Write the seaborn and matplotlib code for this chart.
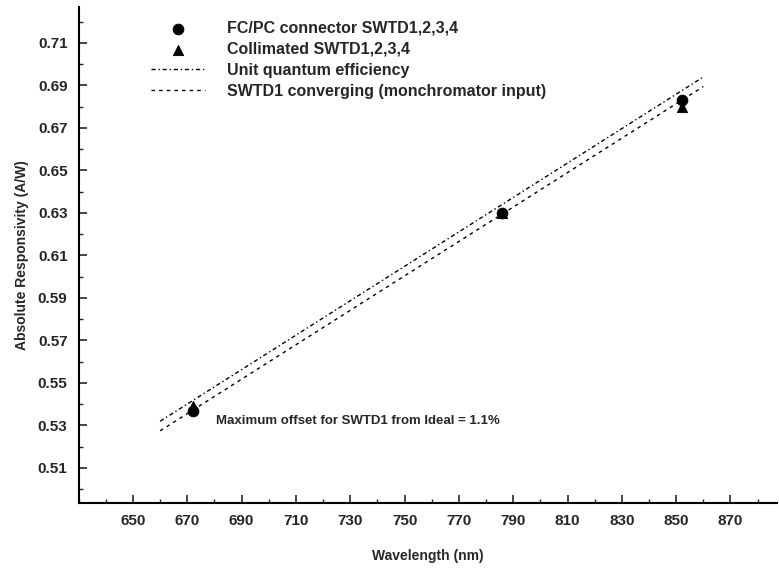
import pandas as pd
import matplotlib
matplotlib.use('Agg')
import matplotlib.pyplot as plt
import seaborn as sns
from matplotlib.ticker import MultipleLocator

# 측정 데이터
wl_pts = [672, 786, 852]
fcpc = [0.537, 0.630, 0.683]
collim = [0.539, 0.630, 0.680]

# 기준선 (양 끝점)
wl_line = [660, 860]
unit_qe = [0.532, 0.694]
swtd1_conv = [0.5275, 0.6895]

x_ticks = [650, 670, 690, 710, 730, 750, 770, 790, 810, 830, 850, 870]
y_ticks = [0.51, 0.53, 0.55, 0.57, 0.59, 0.61, 0.63, 0.65, 0.67, 0.69, 0.71]

sns.set_style('ticks')
plt.rcParams['font.family'] = ['Liberation Sans', 'DejaVu Sans']

df_pts = pd.DataFrame({'wl': wl_pts, 'fcpc': fcpc, 'collim': collim})
df_line = pd.DataFrame({'wl': wl_line, 'unit': unit_qe, 'conv': swtd1_conv})

fig = plt.figure(figsize=(7.79, 5.71), dpi=100)
ax = fig.add_axes([0.101, 0.119, 0.896, 0.869])

sns.scatterplot(data=df_pts, x='wl', y='fcpc', ax=ax, marker='o', s=60,
                color='black', edgecolor='black', label='FC/PC connector SWTD1,2,3,4', zorder=3)
sns.scatterplot(data=df_pts, x='wl', y='collim', ax=ax, marker='^', s=55,
                color='black', edgecolor='black', label='Collimated SWTD1,2,3,4', zorder=3)
sns.lineplot(data=df_line, x='wl', y='unit', ax=ax, color='black', lw=1.0,
             dashes=False, label='Unit quantum efficiency')
ax.lines[-1].set_dashes([3, 2, 1, 2])
sns.lineplot(data=df_line, x='wl', y='conv', ax=ax, color='black', lw=1.0,
             label='SWTD1 converging (monchromator input)')
ax.lines[-1].set_dashes([2.5, 3])

ax.text(680.5, 0.532, 'Maximum offset for SWTD1 from Ideal = 1.1%', fontsize=9.5,
        fontweight='bold', va='center', ha='left')

ax.set_xlim(630, 887)
ax.set_ylim(0.4935, 0.727)
ax.set_xticks(x_ticks)
ax.set_yticks(y_ticks)
ax.set_yticklabels([f'{v:.2f}' for v in y_ticks])
ax.xaxis.set_minor_locator(MultipleLocator(10))
ax.yaxis.set_minor_locator(MultipleLocator(0.01))
ax.tick_params(which='major', direction='in', length=6, width=1.2, labelsize=11, pad=8)
ax.tick_params(which='minor', direction='in', length=3, width=1.0)
for lab in ax.get_xticklabels() + ax.get_yticklabels():
    lab.set_fontweight('bold')

sns.despine(ax=ax)
for s in ['left', 'bottom']:
    ax.spines[s].set_linewidth(1.5)
    ax.spines[s].set_color('black')

ax.set_xlabel('Wavelength (nm)', fontsize=10, fontweight='bold', labelpad=15)
ax.set_ylabel('Absolute Responsivity (A/W)', fontsize=10, fontweight='bold', labelpad=6)

leg = ax.legend(loc='upper left', bbox_to_anchor=(0.103, 0.972), frameon=False,
                prop={'size': 11.5, 'weight': 'bold'}, handlelength=3.4, handletextpad=1.4,
                labelspacing=0.38, borderaxespad=0, borderpad=0)

fig.savefig('out.png', dpi=100)
